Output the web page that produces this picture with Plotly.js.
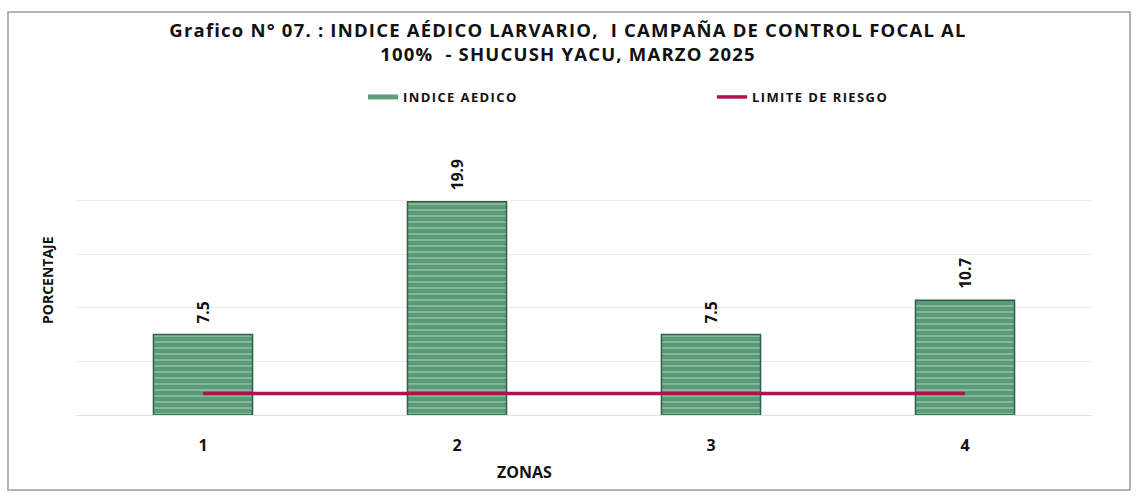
<!DOCTYPE html>
<html>
<head>
<meta charset="utf-8">
<script src="https://cdn.plot.ly/plotly-3.0.1.min.js"></script>
<style>
html,body{margin:0;padding:0;background:#fff;overflow:hidden;}
#chart{width:1136px;height:497px;}
#chart .gtitle{letter-spacing:1.2px;}
#chart .legendtext{letter-spacing:1.4px;}
</style>
</head>
<body>
<div id="chart"></div>
<script>
const zonas = ["1", "2", "3", "4"];
const indiceAedico = [7.5, 19.9, 7.5, 10.7];
const limiteRiesgo = [2, 2, 2, 2];
const labels = ["7.5", "19.9", "7.5", "10.7"];

const font = "'Open Sans', 'DejaVu Sans', sans-serif";
const green = "#5f9f7c";
const crimson = "#b3104f";

const traces = [
  {
    type: "bar",
    name: "INDICE AEDICO",
    x: zonas,
    y: indiceAedico,
    showlegend: false,
    width: 0.39,
    marker: {
      color: green,
      line: {color: "#2f5f46", width: 1.5},
      pattern: {shape: "-", fgcolor: "#9fcfb4", bgcolor: "#5a9a77", size: 6, solidity: 0.2}
    }
  },
  {
    type: "scatter",
    mode: "lines",
    name: "INDICE AEDICO",
    x: [zonas[0]],
    y: [null],
    line: {color: green, width: 5}
  },
  {
    type: "scatter",
    mode: "lines",
    name: "LIMITE DE RIESGO",
    x: zonas,
    y: limiteRiesgo,
    line: {color: crimson, width: 3.5}
  }
];

// category axis: annotation x given as category index
const barLabels = zonas.map((z, i) => ({
  x: i, y: indiceAedico[i], xref: "x", yref: "y",
  text: "<b>" + labels[i] + "</b>",
  textangle: -90,
  showarrow: false,
  xanchor: "center", yanchor: "bottom",
  yshift: 9,
  font: {family: font, size: 15.5, color: "#111"}
}));

const layout = {
  width: 1136,
  height: 497,
  margin: {l: 76, r: 44, t: 147, b: 82, autoexpand: false},
  paper_bgcolor: "#ffffff",
  plot_bgcolor: "#ffffff",
  font: {family: font, color: "#111"},
  title: {
    text: "<b>Grafico N° 07. : INDICE AÉDICO LARVARIO,  I CAMPAÑA DE CONTROL FOCAL AL<br>100%  - SHUCUSH YACU, MARZO 2025</b>",
    font: {family: font, size: 18.5, color: "#111"},
    x: 0.5, xanchor: "center",
    y: 0.925, yanchor: "top"
  },
  showlegend: true,
  legend: {
    orientation: "h",
    x: (363 - 76) / 1016, xanchor: "left",
    y: (415 - 97) / 268, yanchor: "middle",
    entrywidth: 304, entrywidthmode: "pixels",
    font: {family: font, size: 13, color: "#111", weight: "bold"},
    bgcolor: "rgba(0,0,0,0)"
  },
  xaxis: {
    type: "category",
    range: [-0.5, 3.5],
    showgrid: false,
    zeroline: false,
    showline: false,
    ticks: "",
    ticklabelstandoff: 19,
    tickfont: {family: font, size: 16, color: "#111", weight: "bold"},
    title: {text: ""}
  },
  yaxis: {
    range: [0, 25],
    dtick: 5,
    showticklabels: false,
    showgrid: true,
    gridcolor: "#ebebeb",
    gridwidth: 1,
    zeroline: true,
    zerolinecolor: "#e0e0e0",
    title: {text: ""}
  },
  annotations: barLabels.concat([
    {text: "<b>ZONAS</b>", xref: "paper", yref: "paper", x: (524 - 76) / 1016, y: -(472 - 415) / 268, xanchor: "center", yanchor: "middle", showarrow: false, font: {family: font, size: 16, color: "#111"}},
    {text: "<b>PORCENTAJE</b>", xref: "paper", yref: "paper", x: (47 - 76) / 1016, y: (415 - 280) / 268, xanchor: "center", yanchor: "middle", textangle: -90, showarrow: false, font: {family: font, size: 14, color: "#111"}}
  ]),
  shapes: [
    {type: "rect", xref: "paper", yref: "paper", x0: -68 / 1016, x1: 1054 / 1016, y0: -75 / 268, y1: 403 / 268, line: {color: "#9a9a9a", width: 1.5}, layer: "below"}
  ]
};

Plotly.newPlot("chart", traces, layout, {displayModeBar: false, staticPlot: true});
</script>
</body>
</html>
